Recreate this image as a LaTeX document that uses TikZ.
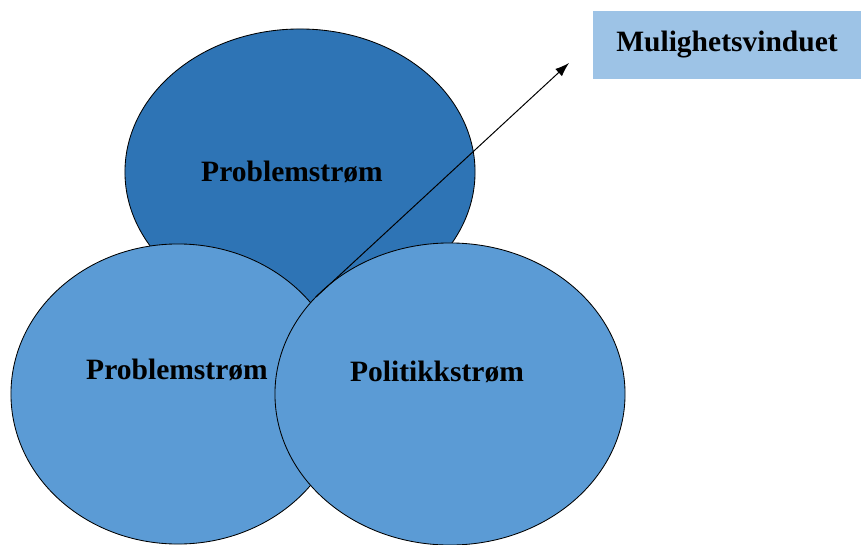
\documentclass[tikz,border=0pt]{standalone}
\usepackage{fontspec}
\setmainfont{Liberation Serif}
\usepackage{tikz}
\usetikzlibrary{shapes.geometric,arrows.meta}
\definecolor{morkbla}{RGB}{46,116,181}
\definecolor{lysbla}{RGB}{91,155,213}
\definecolor{boksbla}{RGB}{157,195,230}

\begin{document}
\begin{tikzpicture}[x=0.025cm,y=-0.025cm,
	strom/.style={ellipse, draw=black, line width=0.6pt, inner sep=0pt},
	etikett/.style={font=\fontsize{21}{24}\selectfont\bfseries}]

	\useasboundingbox (0,0) rectangle (861,545);

	\node[strom, fill=morkbla, minimum width=8.75cm, minimum height=7.15cm] (topp) at (300,172) {};
	\node[strom, fill=lysbla, minimum width=8.35cm, minimum height=7.5cm] (venstre) at (178,394) {};
	\node[strom, fill=lysbla, minimum width=8.75cm, minimum height=7.55cm] (hoyre) at (450,394) {};

	\node[etikett] (t1) at (292,172) {Problemstrøm};
	\node[etikett] (t2) at (177,370) {Problemstrøm};
	\node[etikett] (t3) at (437,372) {Politikkstrøm};

	\node[etikett, fill=boksbla, minimum width=6.7cm, minimum height=1.7cm, inner sep=0pt] (vindu) at (727,45) {Mulighetsvinduet};

	\coordinate (kryss) at (316,297);
	\coordinate (spiss) at (569,63);
	\draw[line width=0.7pt, -{Latex[length=10pt,width=7pt]}] (kryss) -- (spiss);

\end{tikzpicture}
\end{document}
